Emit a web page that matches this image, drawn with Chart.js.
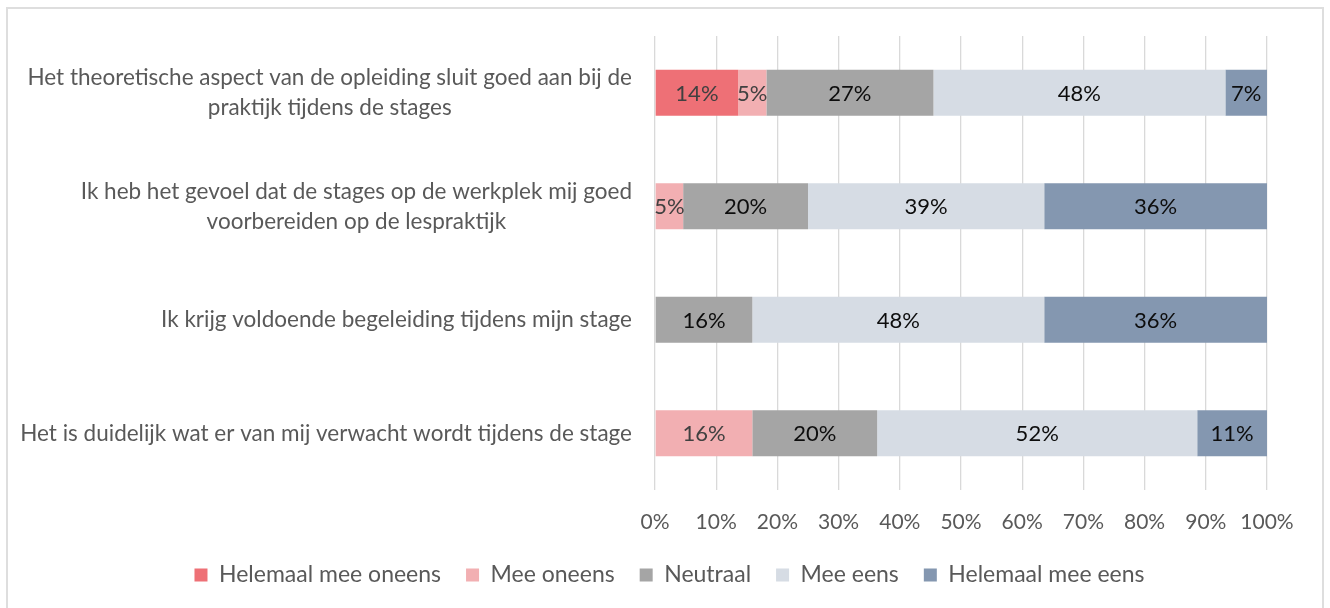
<!DOCTYPE html>
<html>
<head>
<meta charset="utf-8">
<title>Stages</title>
<script src="https://cdn.jsdelivr.net/npm/chart.js@4.4.0/dist/chart.umd.min.js"></script>
<style>
  html, body { margin: 0; padding: 0; background: #fff; overflow: hidden; }
  #frame { position: absolute; left: 6px; top: 7px; width: 1318px; height: 640px; border: 2px solid #DEDEDE; box-sizing: border-box; }
  #chart { position: absolute; left: 0; top: 0; }
</style>
</head>
<body>
<div id="frame"></div>
<canvas id="chart" width="1330" height="608"></canvas>
<script>
// statements, top to bottom (each entry = lines of the label)
var statements = [
  ["Het theoretische aspect van de opleiding sluit goed aan bij de", "praktijk tijdens de stages"],
  ["Ik heb het gevoel dat de stages op de werkplek mij goed", "voorbereiden op de lespraktijk"],
  ["Ik krijg voldoende begeleiding tijdens mijn stage"],
  ["Het is duidelijk wat er van mij verwacht wordt tijdens de stage"]
];

// answer shares in percent, one value per statement
var helemaalOneens = [13.6, 0, 0, 0];
var meeOneens      = [4.6, 4.6, 0, 15.9];
var neutraal       = [27.3, 20.4, 15.9, 20.4];
var meeEens        = [47.7, 38.6, 47.7, 52.3];
var helemaalEens   = [6.8, 36.4, 36.4, 11.4];

var seriesNames  = ["Helemaal mee oneens", "Mee oneens", "Neutraal", "Mee eens", "Helemaal mee eens"];
var seriesColors = ["#EE7076", "#F2AFB2", "#A5A5A5", "#D6DCE4", "#8497B0"];
var labelColors  = ["#404040", "#404040", "#0D0D0D", "#0D0D0D", "#0D0D0D"];
var xTicks = [0, 10, 20, 30, 40, 50, 60, 70, 80, 90, 100];

var textGrey = "#595959";
var fontFamily = "Lato, 'Open Sans', sans-serif";

Chart.defaults.font.family = fontFamily;
Chart.defaults.font.size = 21;
Chart.defaults.color = textGrey;

// statement text: right aligned block, lines centred inside the block
var statementLabels = {
  id: "statementLabels",
  afterDraw: function(chart) {
    var ctx = chart.ctx;
    var yScale = chart.scales.y;
    var rightEdge = 632;
    var lineGap = 30;
    ctx.save();
    ctx.font = "22.5px " + fontFamily;
    ctx.fillStyle = textGrey;
    ctx.textAlign = "center";
    ctx.textBaseline = "middle";
    statements.forEach(function(lines, i) {
      var cy = yScale.getPixelForTick(i);
      var blockW = Math.max.apply(null, lines.map(function(l) { return ctx.measureText(l).width; }));
      var cx = rightEdge - blockW / 2;
      lines.forEach(function(line, j) {
        ctx.fillText(line, cx, cy + (j - (lines.length - 1) / 2) * lineGap);
      });
    });
    ctx.restore();
  }
};

// percentage printed in the middle of every segment
var segmentLabels = {
  id: "segmentLabels",
  afterDatasetsDraw: function(chart) {
    var ctx = chart.ctx;
    ctx.save();
    ctx.font = "22px " + fontFamily;
    ctx.textAlign = "center";
    ctx.textBaseline = "middle";
    chart.data.datasets.forEach(function(ds, di) {
      var meta = chart.getDatasetMeta(di);
      ctx.fillStyle = labelColors[di];
      meta.data.forEach(function(bar, i) {
        var v = ds.data[i];
        if (!v) return;
        var p = bar.getProps(["x", "base", "y"], true);
        ctx.fillText(Math.round(v) + "%", (p.x + p.base) / 2, p.y + 1);
      });
    });
    ctx.restore();
  }
};

var seriesData = [helemaalOneens, meeOneens, neutraal, meeEens, helemaalEens];

new Chart(document.getElementById("chart"), {
  type: "bar",
  data: {
    labels: statements.map(function(s) { return s.join(" "); }),
    datasets: seriesData.map(function(d, i) {
      return {
        label: seriesNames[i],
        data: d,
        backgroundColor: seriesColors[i],
        borderWidth: 0,
        categoryPercentage: 1,
        barPercentage: 0.405
      };
    })
  },
  options: {
    indexAxis: "y",
    responsive: false,
    animation: false,
    layout: { padding: { left: 72, right: 63, top: 36, bottom: 11.5 } },
    scales: {
      x: {
        stacked: true,
        min: 0,
        max: 100,
        afterBuildTicks: function(scale) {
          scale.ticks = xTicks.map(function(v) { return { value: v }; });
        },
        afterFit: function(scale) { scale.height = 48.5; },
        ticks: {
          padding: 20,
          color: textGrey,
          callback: function(v) { return v + "%"; }
        },
        grid: { color: "#D9D9D9", lineWidth: 1.3, drawTicks: false },
        border: { display: false }
      },
      y: {
        stacked: true,
        afterFit: function(scale) { scale.width = 583; },
        ticks: { display: false },
        grid: { display: false },
        border: { display: false }
      }
    },
    plugins: {
      tooltip: { enabled: false },
      legend: {
        position: "bottom",
        labels: {
          boxWidth: 13,
          boxHeight: 13,
          padding: 25,
          color: textGrey,
          font: { size: 23 }
        }
      }
    }
  },
  plugins: [statementLabels, segmentLabels]
});
</script>
</body>
</html>
